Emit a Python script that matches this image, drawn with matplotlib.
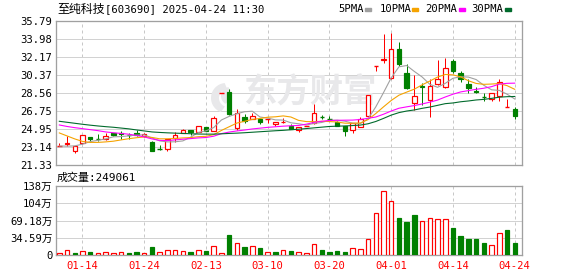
import matplotlib
matplotlib.use('Agg')
import matplotlib.pyplot as plt
from matplotlib.patches import Rectangle, Polygon
import numpy as np

CJK = 'Noto Sans CJK SC'
MONO = ['DejaVu Sans Mono', 'Noto Sans CJK SC']
plt.rcParams['font.family'] = [CJK, 'DejaVu Sans']

# ---------------- data ----------------
stock_name = "至纯科技"
stock_info = "[603690] 2025-04-24 11:30"
vol_caption = "成交量:249061"

date_tick_pos = [3, 11, 19, 27, 35, 43, 51, 59]
date_tick_labels = ["01-14", "01-24", "02-13", "03-10", "03-20", "04-01", "04-14", "04-24"]

price_ticks = [21.33, 23.14, 24.95, 26.75, 28.56, 30.37, 32.17, 33.98, 35.79]
vol_ticks = [0, 34.59, 69.18, 103.77, 138.36]
vol_tick_labels = ["0", "34.59万", "69.18万", "104万", "138万"]

opens = [23.26, 23.40, 22.77, 23.50, 24.17, 24.00, 23.91, 24.51, 24.50, 24.42,
         24.51, 24.24, 23.67, 22.93, 22.91, 24.01, 24.51, 24.84, 24.67, 25.11,
         24.77, 28.60, 28.63, 25.01, 26.18, 25.95, 25.95, 25.90, 25.45, 25.62,
         25.28, 24.84, 25.22, 25.50, 26.18, 26.02, 25.68, 25.25, 24.84, 25.18,
         26.28, 31.24, 31.85, 30.04, 32.95, 30.55, 27.52, 29.25, 27.85, 29.43,
         29.19, 31.77, 30.54, 29.46, 28.72, 28.22, 27.96, 28.29, 27.15, 26.95]
highs = [23.50, 24.27, 23.26, 24.31, 24.17, 24.41, 24.57, 24.55, 24.75, 24.50,
         24.84, 24.51, 23.70, 23.37, 23.91, 24.67, 24.94, 24.84, 25.25, 25.11,
         26.28, 28.60, 28.96, 26.92, 26.45, 26.52, 25.95, 25.95, 25.65, 26.02,
         25.42, 25.17, 25.26, 27.45, 26.38, 26.25, 25.70, 25.25, 25.55, 26.18,
         28.40, 31.24, 34.45, 34.61, 33.71, 31.50, 30.37, 29.53, 30.00, 31.84,
         32.04, 31.97, 30.80, 29.93, 29.19, 28.53, 28.53, 29.93, 27.93, 27.18]
lows = [23.24, 23.24, 22.56, 23.40, 23.67, 23.74, 23.84, 24.28, 23.95, 23.90,
        24.28, 24.10, 22.70, 22.88, 22.77, 23.67, 24.51, 24.34, 24.67, 24.77,
        24.77, 28.60, 26.38, 24.84, 25.52, 25.95, 25.48, 25.58, 25.28, 25.58,
        24.94, 24.67, 25.20, 25.45, 25.95, 25.82, 25.25, 24.27, 24.57, 25.18,
        26.28, 30.80, 31.54, 30.00, 31.30, 29.00, 26.85, 27.36, 26.18, 29.40,
        29.10, 30.60, 29.70, 28.59, 28.59, 27.79, 27.79, 27.79, 27.15, 25.95]
closes = [23.28, 23.55, 23.24, 24.30, 23.97, 23.98, 24.24, 24.31, 24.40, 24.38,
          24.31, 24.41, 22.74, 22.90, 23.91, 24.34, 24.84, 24.61, 25.25, 24.77,
          26.00, 28.60, 26.45, 26.58, 25.78, 26.25, 25.68, 25.92, 25.65, 25.68,
          24.94, 25.17, 25.24, 26.52, 26.14, 25.98, 25.25, 24.77, 25.52, 25.92,
          28.40, 31.24, 31.93, 32.95, 31.44, 29.03, 28.26, 29.15, 29.26, 29.93,
          31.04, 30.80, 29.94, 29.09, 28.66, 28.18, 28.53, 29.63, 27.19, 26.28]
volumes_wan = [4.0, 9.4, 4.0, 7.4, 6.0, 4.0, 5.4, 4.0, 5.4, 4.0,
               6.0, 4.0, 16.0, 5.4, 9.4, 9.4, 7.4, 6.0, 9.4, 8.0,
               17.4, 4.0, 40.1, 24.1, 16.0, 17.4, 14.0, 5.4, 6.0, 9.4,
               8.0, 5.4, 4.0, 21.4, 10.0, 6.0, 8.0, 6.0, 13.4, 12.0,
               31.5, 83.6, 127.7, 107.7, 74.2, 66.2, 80.2, 67.6, 73.6, 71.6,
               71.6, 54.1, 38.1, 32.1, 32.1, 24.7, 20.1, 44.1, 50.1, 24.9]

ma5 = [23.24, 23.22, 23.25, 23.42, 23.68, 23.81, 23.95, 24.16, 24.18, 24.26,
       24.33, 24.36, 24.05, 23.75, 23.65, 23.66, 23.75, 24.12, 24.59, 24.76,
       25.09, 25.85, 26.21, 26.48, 26.68, 26.73, 26.15, 26.04, 25.86, 25.84,
       25.57, 25.47, 25.34, 25.51, 25.60, 25.81, 25.83, 25.73, 25.53, 25.49,
       25.97, 27.17, 28.60, 30.09, 31.19, 31.32, 30.72, 30.17, 29.43, 29.13,
       29.53, 30.04, 30.19, 30.16, 29.91, 29.33, 28.88, 28.82, 28.44, 27.96]
ma10 = [24.55, 24.25, 23.95, 23.70, 23.60, 23.60, 23.65, 23.72, 23.85, 23.97,
        24.07, 24.15, 24.10, 23.96, 23.96, 23.99, 24.05, 24.08, 24.17, 24.21,
        24.38, 24.80, 25.17, 25.54, 25.72, 25.91, 26.00, 26.13, 26.17, 26.26,
        26.15, 25.81, 25.69, 25.68, 25.72, 25.69, 25.65, 25.53, 25.52, 25.55,
        25.89, 26.50, 27.17, 27.81, 28.34, 28.65, 28.95, 29.38, 29.76, 30.16,
        30.42, 30.38, 30.18, 29.79, 29.52, 29.43, 29.46, 29.51, 29.30, 28.93]
ma20 = [25.35, 25.20, 25.08, 24.98, 24.88, 24.78, 24.65, 24.57, 24.50, 24.42,
        24.30, 24.15, 23.95, 23.80, 23.78, 23.85, 23.92, 23.98, 24.05, 24.09,
        24.22, 24.48, 24.64, 24.75, 24.84, 24.95, 25.03, 25.11, 25.17, 25.23,
        25.27, 25.30, 25.43, 25.61, 25.72, 25.80, 25.82, 25.83, 25.84, 25.90,
        26.02, 26.15, 26.43, 26.75, 27.03, 27.17, 27.30, 27.46, 27.64, 27.85,
        28.16, 28.44, 28.67, 28.80, 28.93, 29.04, 29.20, 29.45, 29.53, 29.55]
ma30 = [25.72, 25.62, 25.52, 25.42, 25.33, 25.25, 25.18, 25.12, 25.04, 24.96,
        24.85, 24.75, 24.65, 24.60, 24.56, 24.53, 24.50, 24.47, 24.44, 24.43,
        24.43, 24.46, 24.50, 24.53, 24.57, 24.62, 24.67, 24.72, 24.77, 24.81,
        24.87, 24.92, 24.99, 25.06, 25.13, 25.20, 25.23, 25.25, 25.29, 25.34,
        25.47, 25.70, 26.01, 26.34, 26.59, 26.75, 26.86, 27.02, 27.15, 27.32,
        27.49, 27.56, 27.68, 27.76, 27.86, 27.92, 28.02, 28.14, 28.19, 28.21]

ma_names = ["5PMA", "10PMA", "20PMA", "30PMA"]
ma_colors = ["#a0a0a0", "#f5a300", "#ff00ff", "#006a2c"]

# ---------------- layout ----------------
W, H = 578, 276
fig = plt.figure(figsize=(W / 100, H / 100), dpi=100)
fig.patch.set_facecolor('white')

def rect(l, t, r, b):
    return [l / W, 1 - b / H, (r - l) / W, (b - t) / H]

axp = fig.add_axes(rect(56, 21, 522, 165))
axv = fig.add_axes(rect(56, 186, 522, 255))

PX = 0.72  # one pixel in points
UP = '#ff0000'
DN = '#008000'
FRAME = '#a0a0a0'
GRID = '#d2d2d2'
WM = '#e8e8ea'
n = len(closes)
xlim = (-0.43, 59.94)
bw = 0.58

for ax in (axp, axv):
    ax.set_xlim(*xlim)
    for s in ax.spines.values():
        s.set_color(FRAME)
        s.set_linewidth(1.3 * PX)
    ax.tick_params(length=0)
    for xp in date_tick_pos:
        ax.axvline(xp, color='#c8c8c8', lw=PX, ls=(0, (3, 3)), zorder=0.5)

# price panel
axp.set_ylim(price_ticks[0], price_ticks[-1])
for yv in price_ticks[1:-1]:
    axp.axhline(yv, color=GRID, lw=PX, zorder=0.5)
axp.set_yticks(price_ticks)
axp.set_yticklabels([f"{v:.2f}" for v in price_ticks], family=MONO, fontsize=7.6)
axp.tick_params(axis='y', pad=2.5)
axp.set_xticks([])

# watermark (text + simple swoosh logo, drawn in figure pixel space)
axp.text(0.545, 0.5, "东方财富", transform=axp.transAxes, fontsize=24,
         fontweight='bold', color=WM, ha='center', va='center', zorder=0.6,
         family=CJK)
pix = matplotlib.transforms.Affine2D().scale(1 / W, -1 / H).translate(0, 1) + fig.transFigure
for (cx, cy, r, a0, a1, th) in [(226, 98, 15, 95, 250, 6), (230, 96, 9, 100, 240, 4)]:
    t = np.radians(np.linspace(a0, a1, 30))
    outer = np.c_[cx + r * np.cos(t), cy - r * np.sin(t)]
    inner = np.c_[cx + 2 + (r - th) * np.cos(t[::-1]), cy - (r - th) * np.sin(t[::-1])]
    poly = Polygon(np.vstack([outer, inner]), closed=True, facecolor=WM,
                   edgecolor='none', transform=pix, zorder=0.6)
    poly.set_clip_on(False)
    axp.add_artist(poly)

for i in range(n):
    o, h, l, c = opens[i], highs[i], lows[i], closes[i]
    up = c >= o
    col = UP if up else DN
    axp.plot([i, i], [l, h], color=col, lw=PX, zorder=2, solid_capstyle='butt')
    lo, hi = min(o, c), max(o, c)
    if hi - lo < 0.05:
        axp.plot([i - bw / 2, i + bw / 2], [c, c], color=col, lw=1.4 * PX, zorder=3,
                 solid_capstyle='butt')
    else:
        axp.add_patch(Rectangle((i - bw / 2, lo), bw, hi - lo,
                                facecolor='white' if up else col,
                                edgecolor=col, lw=1.2 * PX, zorder=3))

xs = list(range(n))
for vals, colr in zip([ma5, ma10, ma20, ma30], ma_colors):
    axp.plot(xs, vals, color=colr, lw=1.1 * PX, zorder=4)

# volume panel
axv.set_ylim(vol_ticks[0], vol_ticks[-1])
for yv in vol_ticks[1:-1]:
    axv.axhline(yv, color=GRID, lw=PX, zorder=0.5)
axv.set_yticks(vol_ticks)
axv.set_yticklabels(vol_tick_labels, family=MONO, fontsize=7.6)
axv.tick_params(axis='y', pad=2.5)
axv.set_xticks(date_tick_pos)
axv.set_xticklabels(date_tick_labels, family=MONO, fontsize=7.6, color=UP)
axv.tick_params(axis='x', pad=4)

for i in range(n):
    prev = closes[i - 1] if i > 0 else opens[i]
    up = closes[i] >= prev
    col = UP if up else DN
    axv.add_patch(Rectangle((i - bw / 2, 0), bw, volumes_wan[i],
                            facecolor='white' if up else col,
                            edgecolor=col, lw=1.2 * PX, zorder=3))

# texts
fig.text(57 / W, 1 - 9.5 / H, stock_name, fontsize=8.6, family=CJK, va='center', ha='left')
fig.text(105 / W, 1 - 9.5 / H, stock_info, fontsize=7.6, family=MONO, va='center', ha='left')
fig.text(57 / W, 1 - 177.5 / H, vol_caption, fontsize=7.9, family=MONO, va='center', ha='left')

leg_text_x = [338, 380, 425, 471]
leg_mark_x = [365, 412, 459, 505]
for name, colr, tx, mx in zip(ma_names, ma_colors, leg_text_x, leg_mark_x):
    fig.text(tx / W, 1 - 9.5 / H, name, fontsize=7.6, family=MONO, va='center', ha='left')
    fig.add_artist(Rectangle((mx / W, 1 - 11 / H), 6 / W, 2.5 / H,
                             transform=fig.transFigure, color=colr))

fig.savefig('out.png', dpi=100, facecolor='white')
